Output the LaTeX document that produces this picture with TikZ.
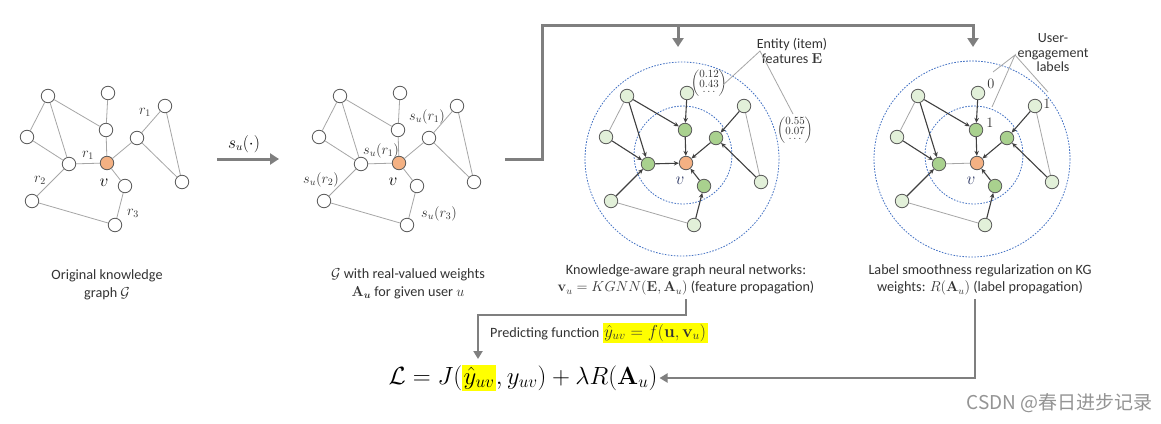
\documentclass[tikz,border=0pt]{standalone}
\usepackage{amsmath}
\usepackage[no-math]{fontspec}
\setmainfont{Carlito}
\newfontfamily\cjkfont{Noto Sans CJK SC}
\usetikzlibrary{arrows.meta}
\definecolor{nodeline}{HTML}{595959}
\definecolor{edgegray}{HTML}{A6A6A6}
\definecolor{arrowdark}{HTML}{404040}
\definecolor{vorange}{HTML}{F4B183}
\definecolor{lightgreen}{HTML}{E2F0D9}
\definecolor{midgreen}{HTML}{A9D18E}
\definecolor{ringblue}{HTML}{4472C4}
\definecolor{conngray}{HTML}{7F7F7F}
\definecolor{captext}{HTML}{333333}
\definecolor{hl}{HTML}{FFFF00}
\definecolor{vblue}{HTML}{2F3A66}
\setlength{\fboxsep}{1.5pt}
\newcommand\placenodes[3]{%
  \foreach \n/\x/\y in {A/48/96, B/108/93, D/27/137, G/165/106, H/182/182, J/32/201, K/115/225}
    \node[#2] (#1\n) at (\x,\y) {};
  \foreach \n/\x/\y in {C/106/130, E/69/164, F/137/138, I/125/186}
    \node[#3] (#1\n) at (\x,\y) {};
  \node[vnode] (#1V) at (107,163) {};
}
\begin{document}
\begin{tikzpicture}[x=1pt,y=-1pt,
  wnode/.style={circle, draw=nodeline, fill=white, line width=0.8pt, minimum size=13.5pt, inner sep=0pt},
  vnode/.style={wnode, fill=vorange},
  lgnode/.style={wnode, fill=lightgreen},
  gnode/.style={wnode, fill=midgreen},
  kedge/.style={draw=edgegray, line width=0.8pt},
  karrow/.style={draw=arrowdark, line width=1.1pt, -{Stealth[length=5pt,width=4.5pt]}},
  ringline/.style={draw=ringblue, line width=0.8pt, dash pattern=on 1.6pt off 1.4pt},
  conn/.style={draw=conngray, line width=3pt, -{Triangle[length=9pt,width=11pt]}},
  connb/.style={draw=conngray, line width=2.2pt, -{Triangle[length=8pt,width=9pt]}},
  captxt/.style={font=\fontsize{14.2}{17.5}\selectfont, text=captext, align=center, inner sep=1pt},
  lbl/.style={font=\fontsize{14.5}{16}\selectfont, text=captext, inner sep=0pt},
  vlbl/.style={font=\fontsize{19}{19}\selectfont, inner sep=0pt},
  vecnode/.style={font=\fontsize{10.5}{10.5}\selectfont, text=captext, inner sep=0pt}
]
\useasboundingbox (0,0) rectangle (1161,423);
\fill[white] (0,0) rectangle (1161,423);

% ---------- graph 1 ----------
\placenodes{a}{wnode}{wnode}
\foreach \p/\q in {A/D, A/E, A/C, B/C, C/V, D/E, E/V, V/F, F/G, F/H, G/H, V/I, I/K, J/K, E/J}
  \draw[kedge] (a\p) -- (a\q);
\node[lbl] (ar1a) at (145,112) {$r_1$};
\node[lbl] (ar1b) at (88,155) {$r_1$};
\node[lbl] (ar2) at (40,180) {$r_2$};
\node[lbl] (ar3) at (133,213) {$r_3$};
\node[vlbl] (av) at (104,183) {$v$};
\node[captxt] (cap1) at (107,285) {Original knowledge\\graph $\mathcal{G}$};

% ---------- arrow s_u ----------
\coordinate (s0) at (217,159);
\coordinate (s1) at (279,159);
\draw[conn] (s0) -- (s1);
\node[font=\fontsize{16}{16}\selectfont, inner sep=0pt] (slbl) at (244,144) {$s_u(\cdot)$};

% ---------- graph 2 ----------
\begin{scope}[xshift=292pt]
\placenodes{b}{wnode}{wnode}
\end{scope}
\foreach \p/\q in {A/D, A/E, A/C, B/C, C/V, D/E, E/V, V/F, F/G, F/H, G/H, V/I, I/K, J/K, E/J}
  \draw[kedge] (b\p) -- (b\q);
\node[lbl] (bs1a) at (427,117) {$s_u(r_1)$};
\node[lbl] (bs1b) at (381,151) {$s_u(r_1)$};
\node[lbl] (bs2) at (321,180) {$s_u(r_2)$};
\node[lbl] (bs3) at (439,214) {$s_u(r_3)$};
\node[vlbl] (bv) at (393,182) {$v$};
\node[captxt] (cap2) at (408,284) {$\mathcal{G}$ with real-valued weights\\$\mathbf{A}_{\boldsymbol{u}}$ for given user $u$};

% ---------- top connector ----------
\coordinate (t0) at (505,159);
\coordinate (t1) at (542,159);
\coordinate (t2) at (542,25);
\coordinate (t3) at (973,25);
\coordinate (t4) at (973,47);
\coordinate (u0) at (678,25);
\coordinate (u1) at (678,47);
\draw[conn] (t0) -- (t1) -- (t2) -- (t3) -- (t4);
\draw[conn] (u0) -- (u1);

% ---------- graph 3 ----------
\draw[ringline] (682,159) circle (97);
\draw[ringline] (683,155) circle (49);
\begin{scope}[xshift=579pt]
\placenodes{c}{lgnode}{gnode}
\end{scope}
\draw[kedge] (cA) -- (cD);
\draw[kedge] (cG) -- (cH);
\draw[kedge] (cJ) -- (cK);
\foreach \p/\q in {A/E, A/C, B/C, C/V, D/E, E/V, F/V, G/F, H/F, J/E, I/V, K/I}
  \draw[karrow] (c\p) -- (c\q);
\node[vlbl, text=vblue] (cv) at (680,181) {$v$};
\node[vecnode] (vec1) at (709,83) {$\renewcommand\arraystretch{0.75}\left(\begin{array}{@{}c@{}}0.12\\0.43\\[-2pt]\ldots\end{array}\right)$};
\node[vecnode] (vec2) at (795,130) {$\renewcommand\arraystretch{0.75}\left(\begin{array}{@{}c@{}}0.55\\0.07\\[-2pt]\ldots\end{array}\right)$};
\node[captxt, font=\fontsize{14}{15.5}\selectfont] (ent) at (792,51) {Entity (item)\\features $\mathbf{E}$};
\coordinate (entp) at (760,51);
\coordinate (ent1) at (723,85);
\coordinate (ent2) at (793,114);
\draw[edgegray, line width=0.8pt] (ent1) -- (entp) -- (ent2);
\node[captxt] (cap3) at (686,280) {Knowledge-aware graph neural networks:\\$\mathbf{v}_u = KGNN(\mathbf{E},\mathbf{A}_u)$ (feature propagation)};

% ---------- graph 4 ----------
\draw[ringline] (972,159) circle (98);
\draw[ringline] (974,155) circle (49);
\begin{scope}[xshift=870pt]
\placenodes{d}{lgnode}{gnode}
\end{scope}
\draw[kedge] (dA) -- (dD);
\draw[kedge] (dG) -- (dH);
\draw[kedge] (dJ) -- (dK);
\draw[kedge] (dE) -- (dV);
\foreach \p/\q in {A/E, A/C, B/C, C/V, D/E, F/V, G/F, H/F, J/E, I/V, K/I}
  \draw[karrow] (d\p) -- (d\q);
\node[vlbl, text=vblue] (dv) at (971,181) {$v$};
\node[lbl, font=\fontsize{14.5}{14.5}\selectfont] (l0) at (991,84) {$0$};
\node[lbl, font=\fontsize{14.5}{14.5}\selectfont] (l1a) at (990,123) {$1$};
\node[lbl, font=\fontsize{14.5}{14.5}\selectfont] (l1b) at (1047,104) {$1$};
\node[captxt, font=\fontsize{14}{14.5}\selectfont] (uel) at (1053,53) {User-\\engagement\\labels};
\coordinate (uep) at (1015,55);
\coordinate (ue1) at (993,72);
\coordinate (ue2) at (992,107);
\coordinate (ue3) at (1048,92);
\draw[edgegray, line width=0.8pt] (ue1) -- (uep) -- (ue2);
\draw[edgegray, line width=0.8pt] (uep) -- (ue3);
\node[captxt] (cap4) at (980,280) {Label smoothness regularization on KG\\weights: $R(\mathbf{A}_u)$ (label propagation)};

% ---------- bottom ----------
\node[font=\fontsize{23.5}{27}\selectfont, inner sep=2pt] (loss) at (523,378)
  {$\mathcal{L} = J(\colorbox{hl}{$\hat{y}_{uv}$}, y_{uv}) + \lambda R(\mathbf{A}_u)$};
\node[captxt, anchor=west] (pred) at (489,333) {Predicting function \colorbox{hl}{\fontsize{16.5}{17}\selectfont$\hat{y}_{uv} = f(\mathbf{u},\mathbf{v}_u)$}};
\coordinate (c3a) at (686,299);
\coordinate (c3b) at (686,315);
\coordinate (lossin) at (478,359);
\draw[connb] (c3a) -- (c3b) -| (lossin);
\coordinate (c4a) at (975,299);
\draw[connb] (c4a) |- (loss.east);

% ---------- watermark ----------
\node[font=\cjkfont\fontsize{19}{19}\selectfont, text=black!42, anchor=east, inner sep=0pt] (wm) at (1153,403) {CSDN @春日进步记录};
\end{tikzpicture}
\end{document}
